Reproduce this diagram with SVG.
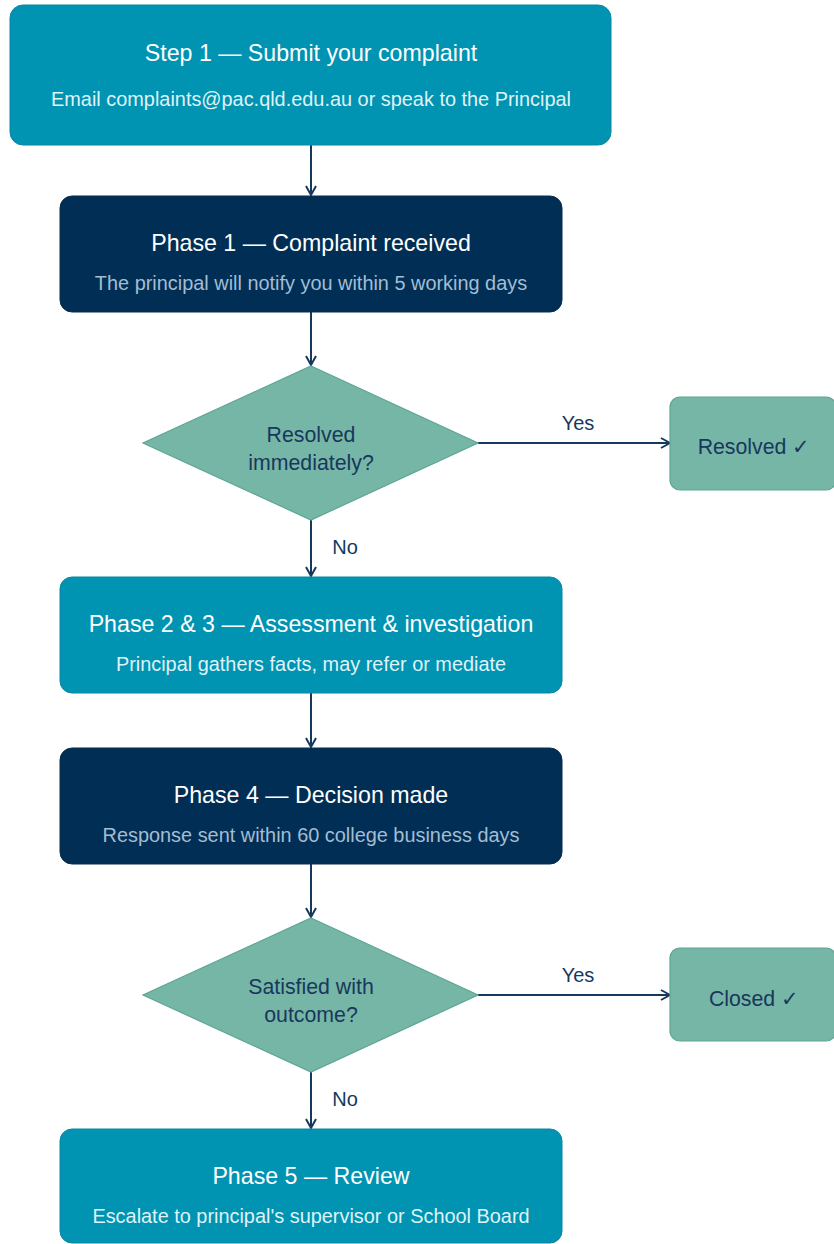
<svg xmlns="http://www.w3.org/2000/svg" width="834" height="1244" viewBox="0 0 834 1244">
<style>
text{font-family:"Liberation Sans",Arial,sans-serif;text-anchor:middle}
.teal{fill:#0093B2;stroke:#0a86a3;stroke-width:1}
.navy{fill:#002E55;stroke:#0d2c4d;stroke-width:1}
.green{fill:#76B6A6;stroke:#5ca594;stroke-width:1.2}
.t{font-size:23.2px;fill:#ffffff}
.st{font-size:19.9px;fill:#dff3f8}
.sn{font-size:19.9px;fill:#a3bdd2}
.d{font-size:21.3px;fill:#17385d}
.lbl{font-size:20px;fill:#17385d}
.conn{stroke:#17385d;stroke-width:2;fill:none}
</style>
<defs>
<marker id="arr" viewBox="0 0 12 12" refX="11" refY="6" markerWidth="12" markerHeight="12" markerUnits="userSpaceOnUse" orient="auto">
<path d="M2,1 L11,6 L2,11" fill="none" stroke="#17385d" stroke-width="2"/>
</marker>
</defs>
<rect width="834" height="1244" fill="#ffffff"/>
<g id="connectors">
<line class="conn" x1="311" y1="145" x2="311" y2="195" marker-end="url(#arr)"/>
<line class="conn" x1="311" y1="312" x2="311" y2="365" marker-end="url(#arr)"/>
<line class="conn" x1="478" y1="443" x2="670" y2="443" marker-end="url(#arr)"/>
<text class="lbl" x="578" y="430">Yes</text>
<line class="conn" x1="311" y1="520" x2="311" y2="576" marker-end="url(#arr)"/>
<text class="lbl" x="345" y="554">No</text>
<line class="conn" x1="311" y1="693" x2="311" y2="747" marker-end="url(#arr)"/>
<line class="conn" x1="311" y1="864" x2="311" y2="917" marker-end="url(#arr)"/>
<line class="conn" x1="478" y1="995" x2="670" y2="995" marker-end="url(#arr)"/>
<text class="lbl" x="578" y="982">Yes</text>
<line class="conn" x1="311" y1="1072" x2="311" y2="1128" marker-end="url(#arr)"/>
<text class="lbl" x="345" y="1106">No</text>
</g>
<g id="step1">
<rect class="teal" x="10" y="5" width="601" height="140" rx="13"/>
<text class="t" x="311" y="61">Step 1 — Submit your complaint</text>
<text class="st" x="311" y="106">Email complaints@pac.qld.edu.au or speak to the Principal</text>
</g>
<g id="phase1">
<rect class="navy" x="60" y="196" width="502" height="116" rx="12"/>
<text class="t" x="311" y="251">Phase 1 — Complaint received</text>
<text class="sn" x="311" y="290">The principal will notify you within 5 working days</text>
</g>
<g id="decision1">
<polygon class="green" points="311,366 478,443 311,520 143,443"/>
<text class="d" x="311" y="442">Resolved</text>
<text class="d" x="311" y="470">immediately?</text>
</g>
<g id="resolved">
<rect class="green" x="670" y="397" width="166" height="93" rx="10"/>
<text class="d" x="754" y="454">Resolved ✓</text>
</g>
<g id="phase23">
<rect class="teal" x="60" y="577" width="502" height="116" rx="12"/>
<text class="t" x="311" y="632">Phase 2 &amp; 3 — Assessment &amp; investigation</text>
<text class="st" x="311" y="671">Principal gathers facts, may refer or mediate</text>
</g>
<g id="phase4">
<rect class="navy" x="60" y="748" width="502" height="116" rx="12"/>
<text class="t" x="311" y="803">Phase 4 — Decision made</text>
<text class="sn" x="311" y="842">Response sent within 60 college business days</text>
</g>
<g id="decision2">
<polygon class="green" points="311,918 478,995 311,1072 143,995"/>
<text class="d" x="311" y="994">Satisfied with</text>
<text class="d" x="311" y="1022">outcome?</text>
</g>
<g id="closed">
<rect class="green" x="670" y="948" width="166" height="93" rx="10"/>
<text class="d" x="754" y="1006">Closed ✓</text>
</g>
<g id="phase5">
<rect class="teal" x="60" y="1129" width="502" height="114" rx="12"/>
<text class="t" x="311" y="1184">Phase 5 — Review</text>
<text class="st" x="311" y="1223">Escalate to principal's supervisor or School Board</text>
</g>
</svg>
